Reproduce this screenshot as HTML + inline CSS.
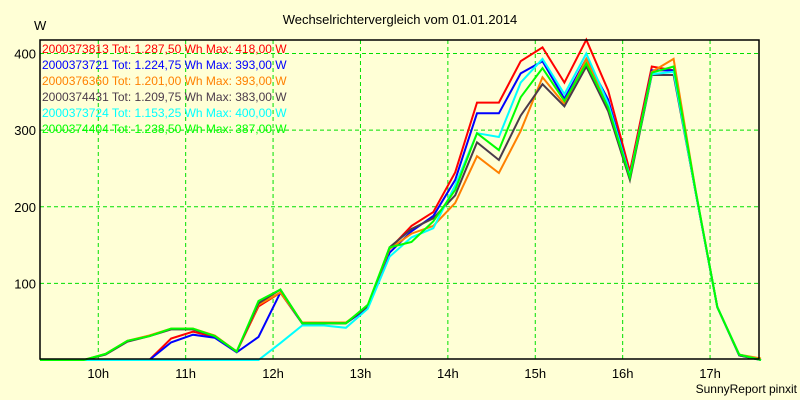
<!DOCTYPE html>
<html><head><meta charset="utf-8"><style>
body{margin:0;background:#ffffd6;}
svg{display:block;font-family:"Liberation Sans",sans-serif;}
</style></head><body>
<svg id="chart" width="800" height="400">
<rect x="0" y="0" width="800" height="400" fill="#ffffd6"/>
<text x="400" y="24" text-anchor="middle" font-size="13">Wechselrichtervergleich vom 01.01.2014</text>
<text x="34" y="30" font-size="13">W</text>
<text x="797" y="393" text-anchor="end" font-size="12">SunnyReport pinxit</text>
<g id="grid"></g><g id="series"></g><g id="legend"></g>
<rect x="40" y="40" width="719" height="319" fill="none" stroke="#000" stroke-width="1.5"/>
</svg>
<script>
const times=[];for(let t=9*60+20;t<=17*60+35;t+=15)times.push(t/60);
const yTicks=[100,200,300,400];
const xTicks=[10,11,12,13,14,15,16,17];
const names=["2000373813","2000373721","2000376360","2000374431","2000373724","2000374404"];
const totals=["1.287,50","1.224,75","1.201,00","1.209,75","1.153,25","1.238,50"];
const maxes=["418,00","393,00","393,00","383,00","400,00","387,00"];
const colors=["#ff0000","#0000ff","#ff8000","#4b3b4b","#00ffff","#00ff00"];
const sRed=[0,0,0,0,0,0,28,37,30,11,70,88,48,48,48,70,145,175,193,245,336,336,390,408,362,418,352,246,383,378,220,69,7,0];
const sBlue=[0,0,0,0,0,0,23,33,29,10,30,88,48,48,48,68,140,168,188,235,322,322,374,390,341,393,340,240,378,378,220,69,6,0];
const sOrange=[0,0,0,8,25,32,41,41,32,11,72,88,49,49,49,70,145,165,175,205,266,244,299,369,334,393,330,240,376,393,222,69,7,2];
const sDark=[0,0,0,7,24,31,40,40,31,11,74,92,48,48,48,70,147,171,185,215,284,261,319,360,331,383,325,235,372,372,220,69,6,0];
const sCyan=[0,0,0,0,0,0,0,0,0,0,0,22,45,45,42,67,135,160,172,228,296,291,362,393,347,400,335,240,373,376,220,69,7,0];
const sGreen=[0,0,0,8,25,31,41,41,31,11,77,92,48,48,48,72,147,154,181,222,296,274,343,381,338,387,330,238,375,383,222,69,7,0];
const allSeries=[sRed,sBlue,sOrange,sDark,sCyan,sGreen];
const X0=40,X1=759,Y0=360;
const xs=t=>X0+(t-(9+20/60))*87.4;
const ys=v=>Y0-v*0.7662;
const NS="http://www.w3.org/2000/svg";
const mk=(tag,attrs,parent)=>{const e=document.createElementNS(NS,tag);for(const k in attrs)e.setAttribute(k,attrs[k]);parent.appendChild(e);return e;};
const grid=document.getElementById('grid');
yTicks.forEach(v=>{
 const l=mk('line',{x1:X0,x2:X1,y1:ys(v),y2:ys(v),stroke:'#00e000','stroke-dasharray':'4,3','stroke-width':1},grid);
 
 
 const t=mk('text',{x:36,y:ys(v)+5,'text-anchor':'end','font-size':13},grid);t.textContent=v;
 
 
});
xTicks.forEach(h=>{
 const l=mk('line',{x1:xs(h),x2:xs(h),y1:40,y2:Y0,stroke:'#00e000','stroke-dasharray':'4,3','stroke-width':1},grid);
 
 
 const t=mk('text',{x:xs(h),y:378,'text-anchor':'middle','font-size':13},grid);t.textContent=h+'h';
 
 
});
const sg=document.getElementById('series');
allSeries.forEach((s,i)=>{
 const p=mk('polyline',{points:s.map((v,j)=>xs(times[j]).toFixed(1)+','+ys(v).toFixed(1)).join(' '),fill:'none',stroke:colors[i],'stroke-width':2,'stroke-linejoin':'miter'},sg);
 
 
});
const lg=document.getElementById('legend');
names.forEach((n,i)=>{
 const t=mk('text',{x:42,y:53+i*16,'font-size':12,fill:colors[i]},lg);
 t.textContent=n+' Tot: '+totals[i]+' Wh Max: '+maxes[i]+' W';
 
 
});
</script>
</body></html>
